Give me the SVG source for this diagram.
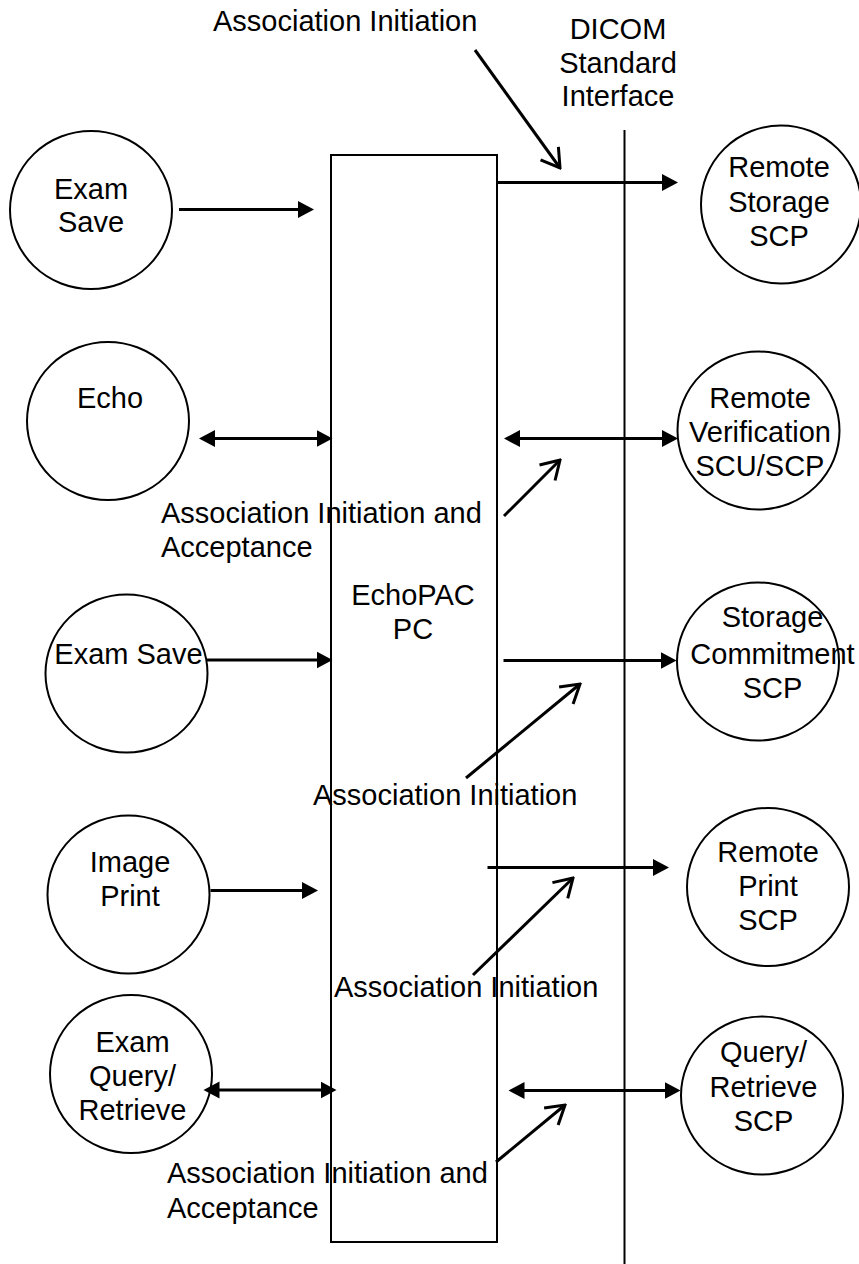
<svg xmlns="http://www.w3.org/2000/svg" width="859" height="1264" viewBox="0 0 859 1264">
<style>
text{font-family:"Liberation Sans",Arial,sans-serif;font-size:29px;fill:#000}
.c{text-anchor:middle}
.node{fill:#fff;stroke:#000;stroke-width:2}
.arr{stroke:#000;stroke-width:3;fill:none}
.ptr{stroke:#000;stroke-width:3;fill:none}
</style>
<defs>
<marker id="ah" viewBox="0 -10 18 20" refX="8" refY="0" markerWidth="18" markerHeight="20" markerUnits="userSpaceOnUse" orient="auto-start-reverse">
<path d="M0,-8.5 L16,0 L0,8.5 Z" fill="#000"/>
</marker>
<marker id="oh" viewBox="-22 -14 24 28" refX="0" refY="0" markerWidth="24" markerHeight="28" markerUnits="userSpaceOnUse" orient="auto">
<path d="M-18,-11 L0,0 L-18,11" fill="none" stroke="#000" stroke-width="3"/>
</marker>
</defs>
<rect width="859" height="1264" fill="#fff"/>

<g id="echopac">
<rect x="331" y="155" width="166" height="1087" fill="#fff" stroke="#000" stroke-width="2"/>
<text class="c" x="413" y="605">EchoPAC<tspan x="413" dy="34">PC</tspan></text>
</g>

<g id="dicom">
<line x1="624.5" y1="130" x2="624.5" y2="1264" stroke="#000" stroke-width="2"/>
<text class="c" x="618" y="39">DICOM<tspan x="618" dy="34">Standard</tspan><tspan x="618" dy="33">Interface</tspan></text>
</g>

<g id="exam-save-1">
<ellipse class="node" cx="91" cy="210" rx="81" ry="79"/>
<text class="c" x="91" y="199">Exam<tspan x="91" dy="33">Save</tspan></text>
</g>
<g id="echo">
<ellipse class="node" cx="108" cy="421" rx="81" ry="79"/>
<text class="c" x="110" y="408">Echo</text>
</g>
<g id="exam-save-2">
<ellipse class="node" cx="126.5" cy="673.5" rx="81" ry="79"/>
<text class="c" x="128.5" y="664">Exam Save</text>
</g>
<g id="image-print">
<ellipse class="node" cx="128.5" cy="894.5" rx="81" ry="79"/>
<text class="c" x="130" y="872">Image<tspan x="130" dy="34">Print</tspan></text>
</g>
<g id="exam-query">
<ellipse class="node" cx="131" cy="1074" rx="81" ry="79"/>
<text class="c" x="132.5" y="1052">Exam<tspan x="132.5" dy="33.5">Query/</tspan><tspan x="132.5" dy="34">Retrieve</tspan></text>
</g>

<g id="remote-storage">
<ellipse class="node" cx="781" cy="204.5" rx="80" ry="79"/>
<text class="c" x="779" y="177">Remote<tspan x="779" dy="34.5">Storage</tspan><tspan x="779" dy="34.5">SCP</tspan></text>
</g>
<g id="remote-verification">
<ellipse class="node" cx="758.5" cy="430.5" rx="81" ry="79"/>
<text class="c" x="760" y="408">Remote<tspan x="760" dy="34">Verification</tspan><tspan x="760" dy="34">SCU/SCP</tspan></text>
</g>
<g id="storage-commitment">
<ellipse class="node" cx="758" cy="661.5" rx="81" ry="79"/>
<text class="c" x="772.5" y="627">Storage<tspan x="772.5" dy="36.5">Commitment</tspan><tspan x="772.5" dy="34">SCP</tspan></text>
</g>
<g id="remote-print">
<ellipse class="node" cx="768" cy="887" rx="81" ry="79"/>
<text class="c" x="768" y="862">Remote<tspan x="768" dy="33.5">Print</tspan><tspan x="768" dy="34">SCP</tspan></text>
</g>
<g id="query-retrieve">
<ellipse class="node" cx="762" cy="1095.5" rx="81" ry="79"/>
<text class="c" x="763.5" y="1062">Query/<tspan x="763.5" dy="35">Retrieve</tspan><tspan x="763.5" dy="34">SCP</tspan></text>
</g>

<g id="labels">
<text x="213" y="31">Association Initiation</text>
<text x="161" y="523">Association Initiation and<tspan x="161" dy="34">Acceptance</tspan></text>
<text x="313" y="805">Association Initiation</text>
<text x="334" y="997">Association Initiation</text>
<text x="167" y="1183">Association Initiation and<tspan x="167" dy="34.5">Acceptance</tspan></text>
</g>

<g id="connectors">
<line class="arr" x1="179" y1="209.5" x2="306" y2="209.5" marker-end="url(#ah)"/>
<line class="arr" x1="497" y1="182.5" x2="670" y2="182.5" marker-end="url(#ah)"/>
<line class="arr" x1="207" y1="438.5" x2="324.5" y2="438.5" marker-start="url(#ah)" marker-end="url(#ah)"/>
<line class="arr" x1="512" y1="438.5" x2="670" y2="438.5" marker-start="url(#ah)" marker-end="url(#ah)"/>
<line class="arr" x1="206.5" y1="660" x2="324.5" y2="660" marker-end="url(#ah)"/>
<line class="arr" x1="503.5" y1="660.5" x2="668.5" y2="660.5" marker-end="url(#ah)"/>
<line class="arr" x1="210.5" y1="890.5" x2="310" y2="890.5" marker-end="url(#ah)"/>
<line class="arr" x1="487.5" y1="867.5" x2="661" y2="867.5" marker-end="url(#ah)"/>
<line class="arr" x1="211.5" y1="1090" x2="328.5" y2="1090" marker-start="url(#ah)" marker-end="url(#ah)"/>
<line class="arr" x1="516.5" y1="1090.5" x2="672.5" y2="1090.5" marker-start="url(#ah)" marker-end="url(#ah)"/>

<line class="ptr" x1="475" y1="50" x2="560" y2="168" marker-end="url(#oh)"/>
<line class="ptr" x1="504" y1="516" x2="560" y2="460" marker-end="url(#oh)"/>
<line class="ptr" x1="466" y1="778" x2="580" y2="684" marker-end="url(#oh)"/>
<line class="ptr" x1="473" y1="975" x2="573" y2="878" marker-end="url(#oh)"/>
<line class="ptr" x1="496" y1="1162" x2="565" y2="1105" marker-end="url(#oh)"/>
</g>
</svg>
